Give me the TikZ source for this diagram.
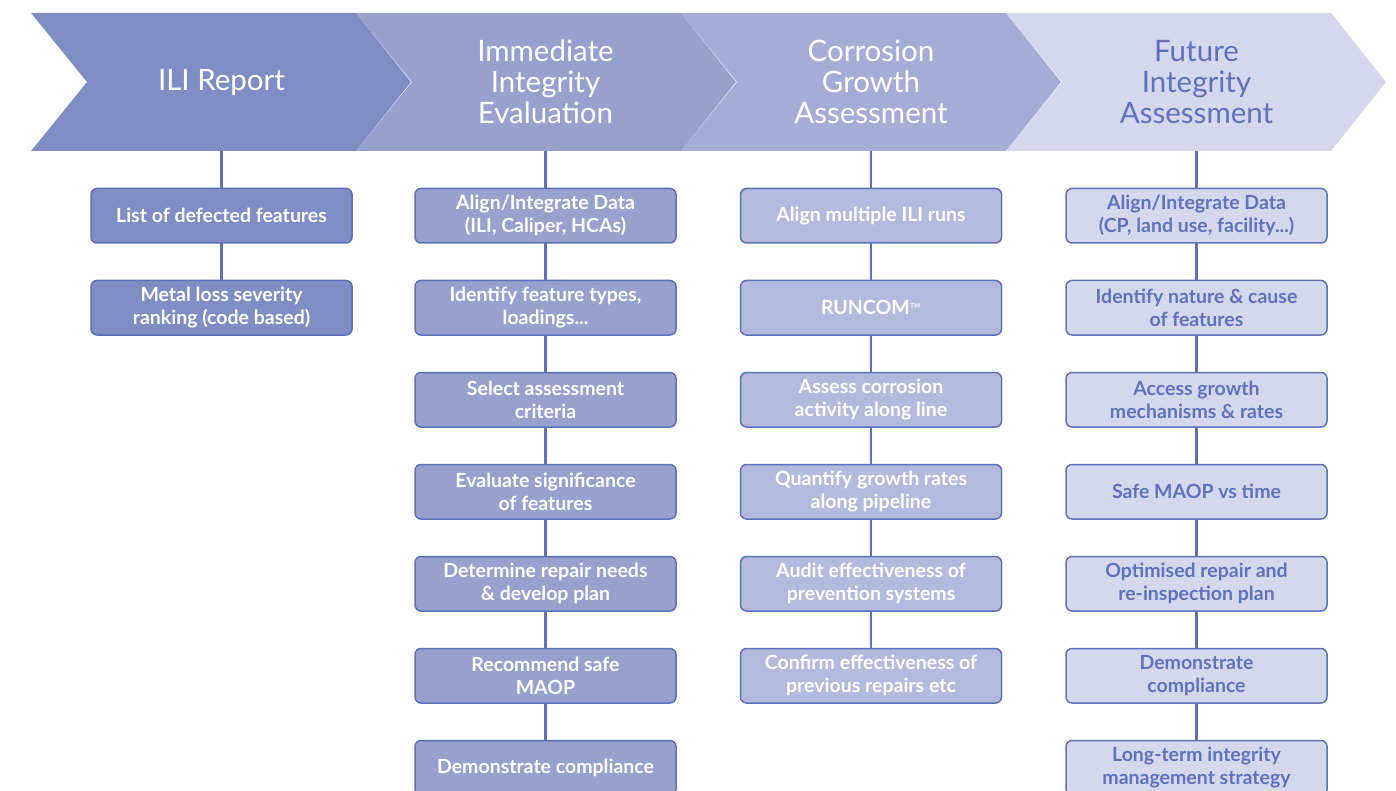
\documentclass[tikz,border=0pt]{standalone}
\usepackage{fontspec}
\setmainfont{Lato}
\definecolor{hdA}{RGB}{127,141,196}
\definecolor{hdB}{RGB}{152,160,206}
\definecolor{hdC}{RGB}{166,172,214}
\definecolor{hdD}{RGB}{213,215,236}
\definecolor{boxC}{RGB}{180,186,222}
\definecolor{edgeblue}{RGB}{92,112,188}
\definecolor{txtblue}{RGB}{94,114,190}
\usetikzlibrary{positioning}

\tikzset{
    headtxt/.style={minimum height=138pt, inner sep=0pt, outer sep=0pt, align=center,
        font=\fontsize{29.5}{31}\selectfont, text=white},
    stepbox/.style={draw=edgeblue, line width=1.5pt, rounded corners=6pt, outer sep=0pt,
        minimum width=261pt, minimum height=54.5pt, inner sep=2pt, align=center,
        font=\bfseries\fontsize{19.5}{23}\selectfont, text=white},
    link/.style={draw=edgeblue, line width=2.4pt}
}

\begin{document}
\begin{tikzpicture}[x=1pt, y=-1pt, node distance=37.5pt]
    \useasboundingbox (0,0) rectangle (1396,791);

    % Chevrons
    \foreach \x/\c in {31/hdA,356/hdB,681/hdC,1006/hdD} {
        \fill[\c] (\x,13) -- ++(325,0) -- ++(55,69) -- ++(-55,69) -- ++(-325,0) -- ++(56,-69) -- cycle;
    }
    \node[headtxt] (hIli) at (221.5,82) {ILI Report};
    \node[headtxt] (hImm) at (545.5,82) {Immediate\\Integrity\\Evaluation};
    \node[headtxt] (hCor) at (871,82) {Corrosion\\Growth\\Assessment};
    \node[headtxt, text=txtblue] (hFut) at (1196.5,82) {Future\\Integrity\\Assessment};

    % ILI report
    \node[stepbox, fill=hdA, below=of hIli] (ili1) {List of defected features};
    \node[stepbox, fill=hdA, below=of ili1] (ili2) {Metal loss severity\\ranking (code based)};

    % Immediate integrity evaluation
    \node[stepbox, fill=hdB, below=of hImm] (imm1) {Align/Integrate Data\\(ILI, Caliper, HCAs)};
    \node[stepbox, fill=hdB, below=of imm1] (imm2) {Identify feature types,\\loadings...};
    \node[stepbox, fill=hdB, below=of imm2] (imm3) {Select assessment\\criteria};
    \node[stepbox, fill=hdB, below=of imm3] (imm4) {Evaluate significance\\of features};
    \node[stepbox, fill=hdB, below=of imm4] (imm5) {Determine repair needs\\\& develop plan};
    \node[stepbox, fill=hdB, below=of imm5] (imm6) {Recommend safe\\MAOP};
    \node[stepbox, fill=hdB, below=of imm6] (imm7) {Demonstrate compliance};

    % Corrosion growth assessment
    \node[stepbox, fill=boxC, below=of hCor] (cor1) {Align multiple ILI runs};
    \node[stepbox, fill=boxC, below=of cor1] (cor2) {RUNCOM{\mdseries\fontsize{15}{15}\selectfont ™}};
    \node[stepbox, fill=boxC, below=of cor2] (cor3) {Assess corrosion\\activity along line};
    \node[stepbox, fill=boxC, below=of cor3] (cor4) {Quantify growth rates\\along pipeline};
    \node[stepbox, fill=boxC, below=of cor4] (cor5) {Audit effectiveness of\\prevention systems};
    \node[stepbox, fill=boxC, below=of cor5] (cor6) {Confirm effectiveness of\\previous repairs etc};

    % Future integrity assessment
    \node[stepbox, fill=hdD, text=txtblue, below=of hFut] (fut1) {Align/Integrate Data\\(CP, land use, facility...)};
    \node[stepbox, fill=hdD, text=txtblue, below=of fut1] (fut2) {Identify nature \& cause\\of features};
    \node[stepbox, fill=hdD, text=txtblue, below=of fut2] (fut3) {Access growth\\mechanisms \& rates};
    \node[stepbox, fill=hdD, text=txtblue, below=of fut3] (fut4) {Safe MAOP vs time};
    \node[stepbox, fill=hdD, text=txtblue, below=of fut4] (fut5) {Optimised repair and\\re-inspection plan};
    \node[stepbox, fill=hdD, text=txtblue, below=of fut5] (fut6) {Demonstrate\\compliance};
    \node[stepbox, fill=hdD, text=txtblue, below=of fut6] (fut7) {Long-term integrity\\management strategy};

    % Connections
    \draw[link] (hIli) -- (ili1);
    \draw[link] (ili1) -- (ili2);
    \draw[link] (hImm) -- (imm1);
    \foreach \a/\b in {1/2,2/3,3/4,4/5,5/6,6/7} {
        \draw[link] (imm\a) -- (imm\b);
        \draw[link] (fut\a) -- (fut\b);
    }
    \draw[link] (hCor) -- (cor1);
    \foreach \a/\b in {1/2,2/3,3/4,4/5,5/6} {
        \draw[link] (cor\a) -- (cor\b);
    }
    \draw[link] (hFut) -- (fut1);
\end{tikzpicture}
\end{document}
